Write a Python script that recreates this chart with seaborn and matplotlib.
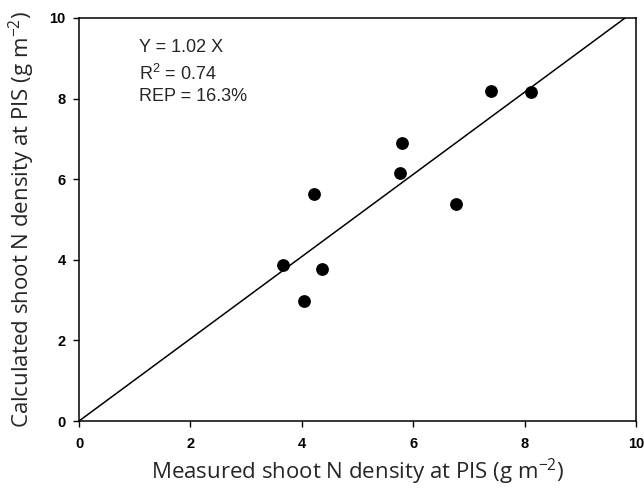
import matplotlib
matplotlib.use("Agg")
import matplotlib.pyplot as plt
import seaborn as sns
import numpy as np
import pandas as pd

measured = [7.39, 8.11, 5.80, 5.77, 6.76, 3.66, 4.36, 4.04, 4.21]
calculated = [8.20, 8.16, 6.91, 6.16, 5.38, 3.86, 3.78, 2.99, 5.63]
slope = 1.02
ticks = [0, 2, 4, 6, 8, 10]

df = pd.DataFrame({"measured": measured, "calculated": calculated})

sns.set_style("ticks")
plt.rcParams['font.family'] = ['Liberation Sans', 'DejaVu Sans']
plt.rcParams['mathtext.fontset'] = 'custom'
plt.rcParams['mathtext.rm'] = 'Open Sans'

fig = plt.figure(figsize=(6.44, 4.90), dpi=100)
ax = fig.add_axes([0.1227, 0.1408, 0.8649, 0.8225])

xl = np.array([0, 10])
ax.plot(xl, slope * xl, color="black", lw=1.1, zorder=1)
sns.scatterplot(data=df, x="measured", y="calculated", ax=ax, color="black",
                s=85, edgecolor="black", linewidth=0, zorder=3)

ax.set_xlim(0, 10)
ax.set_ylim(0, 10)
ax.set_xticks(ticks)
ax.set_yticks(ticks)
ax.set_xticklabels([str(t) for t in ticks], fontweight="bold", fontsize=10.5)
ax.set_yticklabels([str(t) for t in ticks], fontweight="bold", fontsize=10.5)
ax.tick_params(direction="out", length=4.5, width=1, pad=5, colors="black")
ax.tick_params(axis="x", pad=7)
for sp in ax.spines.values():
    sp.set_linewidth(1.1)
    sp.set_color("black")

lab_font = dict(family=['Open Sans', 'DejaVu Sans'], fontsize=16)
ax.set_xlabel(r"Measured shoot N density at PIS (g m$^{\mathregular{-2}}$)", labelpad=4, **lab_font)
ax.set_ylabel(r"Calculated shoot N density at PIS (g m$^{\mathregular{-2}}$)", labelpad=9, **lab_font)

ax.text(1.08, 9.47, "Y = 1.02 X", fontsize=13, va="top")
ax.text(1.08, 8.87, r"R$^{\mathregular{2}}$ = 0.74", fontsize=13, va="top")
ax.text(1.08, 8.27, "REP = 16.3%", fontsize=13, va="top")

fig.savefig("out.png", dpi=100)
